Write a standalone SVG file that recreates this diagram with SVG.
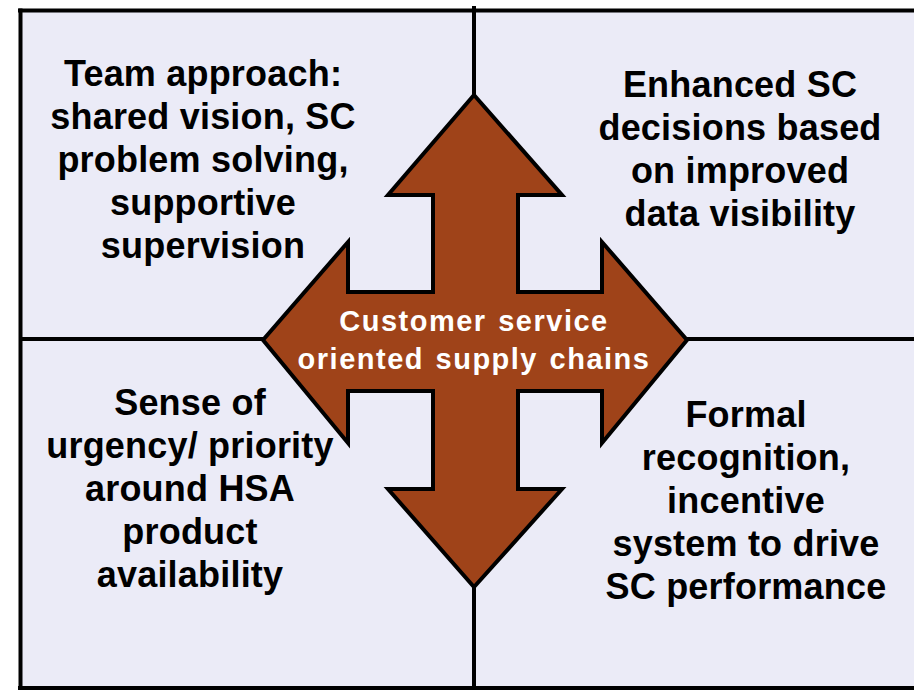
<svg xmlns="http://www.w3.org/2000/svg" width="914" height="690" viewBox="0 0 914 690">
  <style>
    .q { font-family: "Liberation Sans", Arial, sans-serif; font-weight: bold; font-size: 36px; fill: #000; text-anchor: middle; letter-spacing: 0.2px; }
    .c { font-family: "Liberation Sans", Arial, sans-serif; font-weight: bold; font-size: 29px; fill: #fff; text-anchor: middle; letter-spacing: 1.5px; word-spacing: 2px; }
    .ln { stroke: #000; stroke-width: 4; fill: none; }
  </style>
  <rect x="0" y="0" width="914" height="690" fill="#ffffff"/>
  <rect x="20.5" y="10.5" width="900" height="677.5" fill="#EBEBF7"/>
  <g id="connectors">
    <line class="ln" x1="474" y1="6" x2="474" y2="686"/>
    <line class="ln" x1="20" y1="339" x2="914" y2="339"/>
  </g>
  <g id="frame">
    <line class="ln" x1="20.5" y1="8.5" x2="20.5" y2="690" stroke-width="4.5"/>
    <line class="ln" x1="18" y1="10.5" x2="914" y2="10.5" stroke-width="4.5"/>
    <line class="ln" x1="18" y1="688" x2="914" y2="688" stroke-width="4.5"/>
  </g>
  <g id="center">
    <polygon points="474,95 562,195 518,195 518,292 602,292 602,242 687,340 602,443 602,391 518,391 518,489 562,489 474,587 388,489 433,489 433,391 348,391 348,443 263,340 348,242 348,292 433,292 433,195 388,195" fill="#9F4319" stroke="#000" stroke-width="4" stroke-linejoin="miter"/>
    <text class="c" x="474" y="331">Customer service</text>
    <text class="c" x="474" y="369">oriented supply chains</text>
  </g>
  <g id="top-left">
    <text class="q" x="203" y="86">Team approach:</text>
    <text class="q" x="203" y="129">shared vision, SC</text>
    <text class="q" x="203" y="172">problem solving,</text>
    <text class="q" x="203" y="215">supportive</text>
    <text class="q" x="203" y="258">supervision</text>
  </g>
  <g id="top-right">
    <text class="q" x="740" y="97">Enhanced SC</text>
    <text class="q" x="740" y="140">decisions based</text>
    <text class="q" x="740" y="183">on improved</text>
    <text class="q" x="740" y="226">data visibility</text>
  </g>
  <g id="bottom-left">
    <text class="q" x="190" y="415">Sense of</text>
    <text class="q" x="190" y="458">urgency/ priority</text>
    <text class="q" x="190" y="501">around HSA</text>
    <text class="q" x="190" y="544">product</text>
    <text class="q" x="190" y="587">availability</text>
  </g>
  <g id="bottom-right">
    <text class="q" x="746" y="427">Formal</text>
    <text class="q" x="746" y="470">recognition,</text>
    <text class="q" x="746" y="513">incentive</text>
    <text class="q" x="746" y="556">system to drive</text>
    <text class="q" x="746" y="599">SC performance</text>
  </g>
</svg>
